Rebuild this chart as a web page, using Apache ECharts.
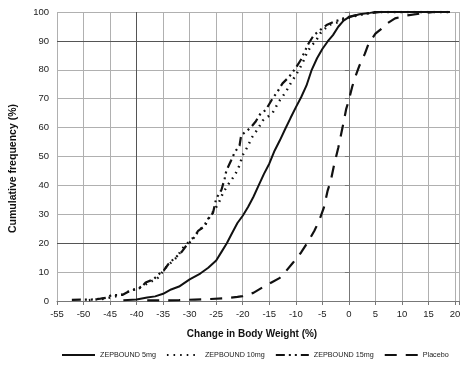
<!DOCTYPE html>
<html>
<head>
<meta charset="utf-8">
<script src="https://cdn.jsdelivr.net/npm/echarts@6/dist/echarts.min.js"></script>
<style>
  html, body { margin: 0; padding: 0; background: #fff; }
  #box1 { width: 474px; height: 365px; }
</style>
</head>
<body>
<div id="box1"></div>
<script>
// cumulative frequency curves, [change in body weight %, cumulative %]
var dose5mg = [[-42.5,0.3],[-40,0.5],[-38,1.2],[-36.5,1.6],[-35,2.5],[-33.5,4],[-32,5],[-30,7.5],[-28,9.5],[-26.5,11.5],[-25,14],[-24,17],[-23,20],[-22,23.5],[-21,27],[-20,29.5],[-19,32.5],[-18,36],[-17,40],[-16,44],[-15,47.5],[-14,52],[-13,55.6],[-12,59.5],[-11,63.3],[-10,67],[-9,70.5],[-8,74.5],[-7,80],[-6,84],[-5,87.2],[-4,89.8],[-3,92],[-2,94.9],[-1,97],[0,98.2],[2,99.2],[4,99.7],[5,100],[19,100]];
var dose10mg = [[-49,0.3],[-46,0.8],[-43,2],[-41.5,3.3],[-39.5,4.6],[-37.5,6.5],[-36,8],[-34.3,12],[-32.5,15],[-31.2,18.5],[-29.3,22],[-27.1,26.6],[-25.9,30],[-24.6,33.6],[-23.7,37.5],[-22.5,41],[-21.5,43.5],[-20.6,47],[-20,50.5],[-19.2,53],[-18.3,56.5],[-17,60],[-16.2,62.5],[-14.4,65],[-13.2,69],[-11.9,72.3],[-11,75.2],[-9.4,80],[-8.5,83.3],[-7.9,86],[-7,88.5],[-6.3,89.7],[-5.4,92.6],[-3.8,95.5],[-2,96.5],[0,98],[2,99],[5,100],[19,100]];
var dose15mg = [[-52.2,0.4],[-50.2,0.5],[-48.5,0.5],[-46.8,0.8],[-45.7,1.1],[-44.8,2],[-42.7,2.1],[-41.4,3.4],[-39.2,4.6],[-38.3,6.4],[-36.8,7.5],[-35.5,9.8],[-34.9,10.5],[-34,12.8],[-33.4,13.9],[-32.7,15],[-31.5,17],[-30.5,19.5],[-29.5,21],[-28.4,24.3],[-27.1,26],[-26.5,28.5],[-25.6,30.5],[-25,35.4],[-24,38.5],[-23.4,42.4],[-23.1,45],[-22.2,48.6],[-21.5,51.5],[-20.6,53.8],[-20.3,57.3],[-18.5,60],[-17.6,62],[-16.6,65],[-15.7,66],[-14.4,70],[-13.5,72.3],[-12.5,75.3],[-11.3,77.5],[-10.1,80.4],[-9.1,83.3],[-8.5,85.6],[-7.6,89.1],[-6.6,92],[-5.4,93.8],[-4.2,95.5],[-3,96.5],[-1,97.8],[1,98.8],[3,99.4],[6,100],[19,100]];
var placebo = [[-38,0.2],[-35,0.2],[-32,0.3],[-29,0.5],[-26,0.7],[-23,1],[-21,1.4],[-20,1.7],[-18,2.8],[-16,5],[-14.5,6.5],[-13,8],[-12,10],[-10.5,13.3],[-9,16.8],[-7.8,20.2],[-6.5,24.3],[-5.6,27.8],[-4.7,32.4],[-4,38.2],[-3.4,41.7],[-2.8,47],[-2,53],[-1.2,60],[-0.5,66.5],[0,69.5],[0.6,74],[1.2,77.5],[2,81.5],[3,85.5],[3.7,89],[5,92.5],[6,94],[7,95.8],[8.7,97.8],[11,98.8],[13.7,99.5],[16,100],[19,100]];

var seriesNames = ['ZEPBOUND 5mg', 'ZEPBOUND 10mg', 'ZEPBOUND 15mg', 'Placebo'];
// darker reference grid lines
var darkY = [90, 20];
var darkX = [-40];

var myChart = echarts.init(document.getElementById('box1'));

var lineCol = '#111';
var gridCol = '#b0b0b0';

var marks = darkY.map(function(v) { return { yAxis: v }; })
  .concat(darkX.map(function(v) { return { xAxis: v }; }));

option = {
  animation: false,
  backgroundColor: '#fff',
  textStyle: { fontFamily: 'Liberation Sans, Arial, sans-serif' },
  grid: {
    left: 52,
    right: 15,
    top: 12,
    bottom: 64
  },
  legend: {
    data: seriesNames,
    left: 56,
    top: 346,
    itemWidth: 33,
    itemHeight: 10,
    itemGap: 10,
    itemStyle: { opacity: 0 },
    textStyle: {
      fontSize: 7.2,
      color: '#222',
      fontFamily: 'Liberation Sans Narrow, Liberation Sans, Arial, sans-serif'
    }
  },
  xAxis: {
    type: 'value',
    min: -55,
    max: 20.75,
    interval: 5,
    name: 'Change in Body Weight (%)',
    nameLocation: 'middle',
    nameGap: 28,
    nameTextStyle: { fontSize: 10, fontWeight: 'bold', color: '#111', padding: [0, 12, 0, 0] },
    axisLine: { show: true, onZero: false, lineStyle: { color: '#777' } },
    axisTick: { show: true, length: 4, lineStyle: { color: '#777' } },
    axisLabel: {
      fontSize: 9.5,
      color: '#222',
      margin: 8,
      formatter: function(value) {
        return value % 5 === 0 ? String(value) : '';
      }
    },
    splitLine: { show: true, lineStyle: { color: gridCol, width: 1 } }
  },
  yAxis: {
    type: 'value',
    min: 0,
    max: 100,
    interval: 10,
    name: 'Cumulative frequency (%)',
    nameLocation: 'middle',
    nameGap: 38,
    nameTextStyle: { fontSize: 10.5, fontWeight: 'bold', color: '#111', padding: [0, 24, 0, 0] },
    axisLine: { show: true, lineStyle: { color: '#777' } },
    axisTick: { show: true, length: 4, lineStyle: { color: '#777' } },
    axisLabel: { fontSize: 9.5, color: '#222', margin: 8 },
    splitLine: { show: true, lineStyle: { color: gridCol, width: 1 } }
  },
  series: [{
    name: seriesNames[0],
    type: 'line',
    symbol: 'none',
    data: dose5mg,
    lineStyle: { color: lineCol, width: 2, type: 'solid' },
    itemStyle: { color: lineCol },
    z: 5,
    markLine: {
      silent: true,
      symbol: 'none',
      label: { show: false },
      lineStyle: { color: '#555', width: 1, type: 'solid' },
      data: marks,
      z: 1
    }
  }, {
    name: seriesNames[1],
    type: 'line',
    symbol: 'none',
    data: dose10mg,
    lineStyle: { color: lineCol, width: 2.4, type: [1.6, 5] },
    itemStyle: { color: lineCol },
    z: 5
  }, {
    name: seriesNames[2],
    type: 'line',
    symbol: 'none',
    data: dose15mg,
    lineStyle: { color: lineCol, width: 2.2, type: [9, 4, 2, 4, 2, 4] },
    itemStyle: { color: lineCol },
    z: 5
  }, {
    name: seriesNames[3],
    type: 'line',
    symbol: 'none',
    data: placebo,
    lineStyle: { color: lineCol, width: 2.2, type: [12, 9] },
    itemStyle: { color: lineCol },
    z: 5
  }]
};
myChart.setOption(option);
</script>
</body>
</html>
